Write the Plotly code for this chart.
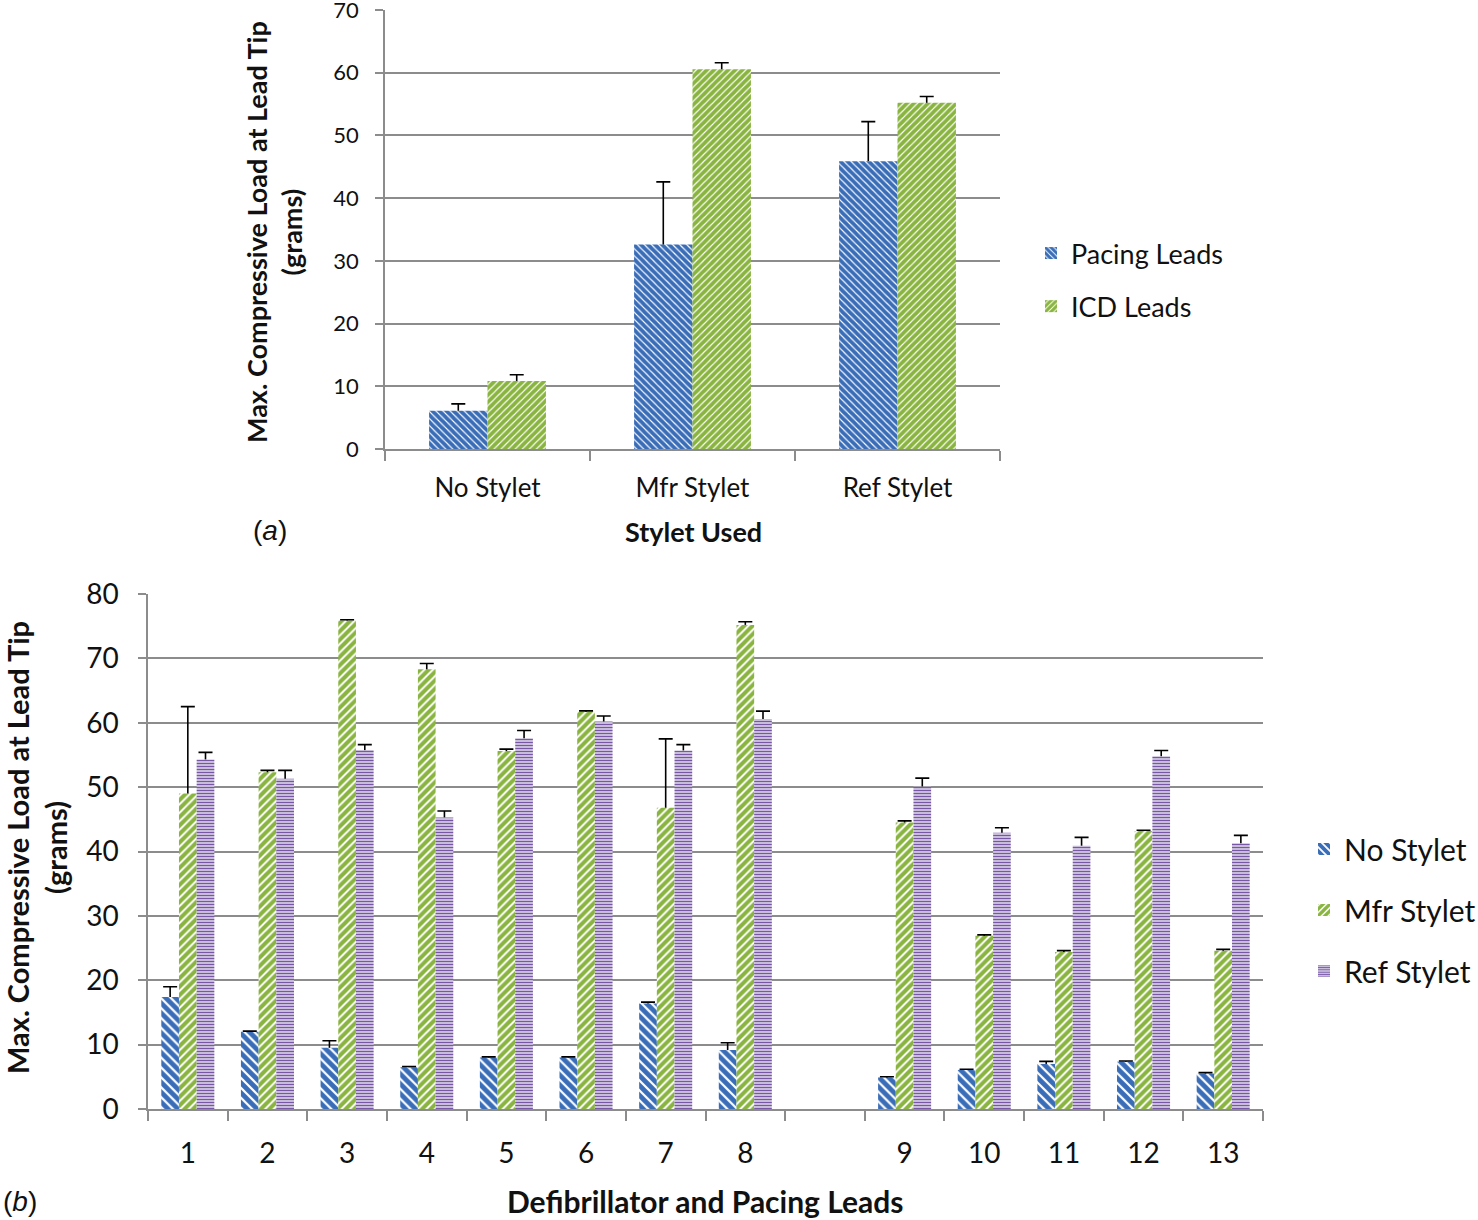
import plotly.graph_objects as go

# ---------- data: panel (a) ----------
stylet_cats = ["No Stylet", "Mfr Stylet", "Ref Stylet"]
pacing_vals = [6.1, 32.6, 45.9]
pacing_err = [1.1, 10.0, 6.3]
icd_vals = [10.85, 60.55, 55.2]
icd_err = [1.0, 1.05, 1.0]

# ---------- data: panel (b) ----------
lead_cats = ["1", "2", "3", "4", "5", "6", "7", "8", " ", "9", "10", "11", "12", "13"]
no_stylet = [17.4, 12.0, 9.5, 6.5, 8.0, 8.0, 16.4, 9.15, None, 4.9, 6.07, 7.0, 7.35, 5.5]
no_stylet_err = [1.6, 0.1, 1.1, 0.1, 0.1, 0.1, 0.2, 1.15, None, 0.1, 0.1, 0.4, 0.1, 0.15]
mfr_stylet = [49.0, 52.3, 75.9, 68.3, 55.6, 61.7, 46.8, 75.2, None, 44.5, 26.9, 24.4, 43.2, 24.6]
mfr_stylet_err = [13.5, 0.3, 0.1, 0.9, 0.3, 0.15, 10.7, 0.5, None, 0.25, 0.15, 0.2, 0.1, 0.2]
ref_stylet = [54.3, 51.3, 55.75, 45.3, 57.6, 60.2, 55.7, 60.6, None, 50.1, 42.9, 40.9, 54.8, 41.3]
ref_stylet_err = [1.1, 1.3, 0.85, 1.0, 1.2, 0.85, 0.9, 1.2, None, 1.3, 0.8, 1.3, 0.9, 1.2]

BLUE = "#3A6DB8"
GREEN = "#8AB440"
PURPLE = "#7757A6"
GRID = "#8c8c8c"
TXT = "#111111"
FONT = "Lato"

W, H = 1478, 1220
def px(x):
    return x / W
def py(y):
    return (H - y) / H

fig = go.Figure()

def add_series(cats, vals, err, name, shape, col, size, solidity, width, offset, xa, ya, leg, grp):
    n = len(vals)
    # the visible bar with the vertical error line (no caps)
    fig.add_trace(go.Bar(
        x=cats, y=vals, name=name, xaxis=xa, yaxis=ya, width=width, offset=offset,
        marker=dict(color="white", line=dict(width=0),
                    pattern=dict(shape=shape, fgcolor=col, bgcolor="white", fgopacity=1,
                                 size=size, solidity=solidity)),
        error_y=dict(type="data", symmetric=False,
                     array=[e if e is not None else 0 for e in err], arrayminus=[0] * n,
                     color="black", thickness=1.6, width=0),
        legend=leg, legendgroup=grp))
    # a transparent helper bar whose zero-length error bar draws the upper cap only
    tops = [(v + e) if v is not None else None for v, e in zip(vals, err)]
    fig.add_trace(go.Bar(
        x=cats, y=tops, xaxis=xa, yaxis=ya, width=width, offset=offset, showlegend=False,
        marker=dict(color="rgba(0,0,0,0)", line=dict(width=0)), hoverinfo="skip",
        error_y=dict(type="data", symmetric=True, array=[0] * n, color="black", thickness=1.6, width=7),
        legend=leg, legendgroup=grp))

# panel (a)
wa = 0.285
add_series(stylet_cats, pacing_vals, pacing_err, "Pacing Leads", "\\", BLUE, 5, 0.78, wa, -wa, "x", "y", "legend", "a1")
add_series(stylet_cats, icd_vals, icd_err, "ICD Leads", "/", GREEN, 5, 0.78, wa, 0, "x", "y", "legend", "a2")

# panel (b)
wb = 0.222
add_series(lead_cats, no_stylet, no_stylet_err, "No Stylet", "\\", BLUE, 7, 0.68, wb, -1.5 * wb, "x2", "y2", "legend2", "b1")
add_series(lead_cats, mfr_stylet, mfr_stylet_err, "Mfr Stylet", "/", GREEN, 6, 0.68, wb, -0.5 * wb, "x2", "y2", "legend2", "b2")
add_series(lead_cats, ref_stylet, ref_stylet_err, "Ref Stylet", "-", PURPLE, 3, 0.6, wb, 0.5 * wb, "x2", "y2", "legend2", "b3")

common = dict(linecolor=GRID, linewidth=1.5, showline=True, zeroline=False, automargin=False,
              tickcolor=GRID, tickwidth=1.5, ticks="outside", ticklabeloverflow="allow")

fig.update_layout(
    width=W, height=H, margin=dict(l=0, r=0, t=0, b=0, autoexpand=False),
    paper_bgcolor="white", plot_bgcolor="white",
    barmode="group", showlegend=True,
    xaxis=dict(domain=[px(385), px(1000)], anchor="y", type="category",
               categoryorder="array", categoryarray=stylet_cats,
               tickson="boundaries", ticklen=10, showgrid=False, ticklabelstandoff=15,
               tickfont=dict(family=FONT, size=26, color=TXT), **common),
    yaxis=dict(domain=[py(449), py(10)], anchor="x", range=[0, 70], dtick=10, ticklen=8,
               showgrid=True, gridcolor=GRID, gridwidth=1.5, ticklabelstandoff=12,
               tickfont=dict(family=FONT, size=22, color=TXT), **common),
    xaxis2=dict(domain=[px(148), px(1263)], anchor="y2", type="category",
                categoryorder="array", categoryarray=lead_cats,
                tickson="boundaries", ticklen=10, showgrid=False, ticklabelstandoff=19,
                tickfont=dict(family=FONT, size=28, color=TXT), **common),
    yaxis2=dict(domain=[py(1109), py(594)], anchor="x2", range=[0, 80], dtick=10, ticklen=8,
                showgrid=True, gridcolor=GRID, gridwidth=1.5, ticklabelstandoff=14,
                tickfont=dict(family=FONT, size=28, color=TXT), **common),
    legend=dict(x=px(1031), y=py(229), xanchor="left", yanchor="top",
                font=dict(family=FONT, size=27, color=TXT), tracegroupgap=15,
                itemwidth=30, bgcolor="rgba(0,0,0,0)"),
    legend2=dict(x=px(1304), y=py(823), xanchor="left", yanchor="top",
                 font=dict(family=FONT, size=30, color=TXT), tracegroupgap=19,
                 itemwidth=30, bgcolor="rgba(0,0,0,0)"),
)

ann = [
    dict(text="<b>Max. Compressive Load at Lead Tip</b><br><b>(grams)</b>", x=px(274), y=py(232),
         textangle=-90, font=dict(family=FONT, size=27, color=TXT)),
    dict(text="<b>Stylet Used</b>", x=px(693), y=py(531), font=dict(family=FONT, size=27, color=TXT)),
    dict(text="(<i>a</i>)", x=px(270), y=py(530), font=dict(family="Liberation Sans", size=28, color=TXT)),
    dict(text="<b>Max. Compressive Load at Lead Tip</b><br><b>(grams)</b>", x=px(36), y=py(848),
         textangle=-90, font=dict(family=FONT, size=29, color=TXT)),
    dict(text="<b>Defibrillator and Pacing Leads</b>", x=px(705), y=py(1201),
         font=dict(family=FONT, size=30, color=TXT)),
    dict(text="(<i>b</i>)", x=px(20), y=py(1201), font=dict(family="Liberation Sans", size=28, color=TXT)),
]
for a in ann:
    a.update(xref="paper", yref="paper", showarrow=False, xanchor="center", yanchor="middle")
fig.update_layout(annotations=ann)

fig.write_html("out.html", config={"displayModeBar": False},
               post_script="document.body.style.margin='0px';")
